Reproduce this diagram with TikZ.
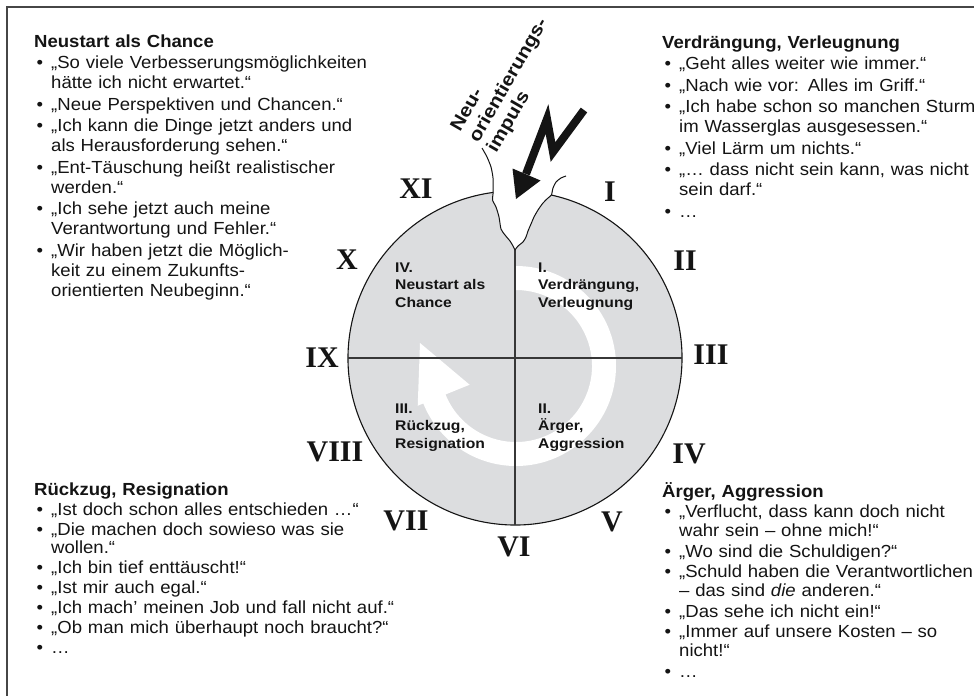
\documentclass[tikz,border=0pt]{standalone}
\usepackage{fontspec}
\setmainfont{Liberation Sans}
\newfontfamily\bodyfont{Liberation Sans}[FakeStretch=1.06]
\newfontfamily\qfont{Liberation Sans}[FakeStretch=1.12]
\newfontfamily\numfont{Liberation Serif}
\usetikzlibrary{calc}
\definecolor{circgray}{RGB}{220,221,223}
\definecolor{framegray}{RGB}{70,70,70}
\definecolor{ink}{RGB}{20,20,20}
\newcommand{\itm}[1]{\makebox[17pt][l]{\hspace{2.5pt}•}#1}
\newcommand{\cnt}[1]{\hspace*{17pt}#1}
\begin{document}
\begin{tikzpicture}[x=1pt,y=-1pt,
  blk/.style={anchor=base west, inner sep=0pt, align=left, text width=420pt, text=ink,
    font={\bodyfont\fontsize{17.5}{#1}\selectfont}},
  qlab/.style={anchor=base west, inner sep=0pt, align=left, text width=150pt, text=ink,
    font={\qfont\bfseries\fontsize{14}{17.8}\selectfont}},
  roman/.style={inner sep=0pt, text=ink, font={\numfont\bfseries\fontsize{30}{30}\selectfont}},
  rottext/.style={anchor=base west, inner sep=0pt, align=left, text width=220pt, text=ink,
    font={\qfont\bfseries\fontsize{18.5}{21}\selectfont}},
  qline/.style={draw=ink!85, line width=1.1pt},
  crackline/.style={draw=ink, line width=1pt}]
\useasboundingbox (0,0) rectangle (974,696);

% circle
\coordinate (c) at (515,358);
\coordinate (rc) at (516,366);
\fill[circgray] (c) circle[radius=167];

% white circular arrow
\fill[white] ($(rc)+(-90:100)$) arc[start angle=-90, end angle=158, radius=100]
  -- ($(rc)+(158:106)$) -- ($(rc)+(-96,-23)$) -- ($(rc)+(158:50)$)
  -- ($(rc)+(158:76)$) arc[start angle=158, end angle=-90, radius=76] -- cycle;

% crack (white)
\fill[white] plot[smooth, tension=0.4] coordinates {(482,148) (487,157) (491,167) (493,178) (493.2,192.4) (492.5,200) (496,207) (499,217) (501,229) (505,235) (510,241) (513,246) (515,250)}
  -- plot[smooth, tension=0.4] coordinates {(515,250) (518,246) (523,242) (526,237) (528,231) (531,224) (534,217) (538,210) (543,203) (548,198) (551.4,195) (553,188) (556,182) (561,178) (566,176)}
  -- (540,120) -- cycle;

% circle border (interrupted by the crack)
\draw[ink, line width=1.1pt] ($(c)+(-77.4:167)$) arc[start angle=-77.4, end angle=262.5, radius=167];

% quadrant lines
\draw[qline] ($(c)+(180:167)$) -- ($(c)+(0:167)$);
\draw[qline] (515,250) -- ($(c)+(90:167)$);

% crack outlines
\draw[crackline] plot[smooth, tension=0.4] coordinates {(482,148) (487,157) (491,167) (493,178) (493.2,192.4) (492.5,200) (496,207) (499,217) (501,229) (505,235) (510,241) (513,246) (515,250)};
\draw[crackline] plot[smooth, tension=0.4] coordinates {(515,250) (518,246) (523,242) (526,237) (528,231) (531,224) (534,217) (538,210) (543,203) (548,198) (551.4,195) (553,188) (556,182) (561,178) (566,176)};

% lightning
\draw[ink, line width=8pt, line join=miter, miter limit=25] (584,110) -- (553,152) -- (547,119) -- (526,174);
\fill[ink] (540.5,180.5) -- (516,199) -- (512.5,168.5) -- cycle;

% rotated label
\node[rottext, rotate=60] (impuls) at (460,133) {Neu-\\orientierungs-\\impuls};

% quadrant labels
\node[qlab] (q4) at (395,272) {IV.\\Neustart als\\Chance};
\node[qlab] (q1) at (538,272) {I.\\Verdrängung,\\Verleugnung};
\node[qlab] (q3) at (395,413) {III.\\Rückzug,\\Resignation};
\node[qlab] (q2) at (538,413) {II.\\Ärger,\\Aggression};

% roman numerals
\node[roman] (nXI) at (416,189) {XI};
\node[roman] (nI) at (610,192) {I};
\node[roman] (nII) at (685,261) {II};
\node[roman] (nIII) at (711,355) {III};
\node[roman] (nIV) at (689,454) {IV};
\node[roman] (nV) at (612,522) {V};
\node[roman] (nVI) at (514,547) {VI};
\node[roman] (nVII) at (406,521) {VII};
\node[roman] (nVIII) at (335,452) {VIII};
\node[roman] (nIX) at (322,358) {IX};
\node[roman] (nX) at (347,260) {X};

% text blocks
\node[blk=20] (tl) at (34,47) {\textbf{Neustart als Chance}\\[1.5pt]
\itm{„So viele Verbesserungsmöglichkeiten}\\
\cnt{hätte ich nicht erwartet.“}\\[1.5pt]
\itm{„Neue Perspektiven und Chancen.“}\\[1.5pt]
\itm{„Ich kann die Dinge jetzt anders und}\\
\cnt{als Herausforderung sehen.“}\\[1.5pt]
\itm{„Ent-Täuschung heißt realistischer}\\
\cnt{werden.“}\\[1.5pt]
\itm{„Ich sehe jetzt auch meine}\\
\cnt{Verantwortung und Fehler.“}\\[1.5pt]
\itm{„Wir haben jetzt die Möglich-}\\
\cnt{keit zu einem Zukunfts-}\\
\cnt{orientierten Neubeginn.“}};

\node[blk=20] (tr) at (662,48) {\textbf{Verdrängung, Verleugnung}\\[1.5pt]
\itm{„Geht alles weiter wie immer.“}\\[1.5pt]
\itm{„Nach wie vor: Alles im Griff.“}\\[1.5pt]
\itm{„Ich habe schon so manchen Sturm}\\
\cnt{im Wasserglas ausgesessen.“}\\[1.5pt]
\itm{„Viel Lärm um nichts.“}\\[1.5pt]
\itm{„… dass nicht sein kann, was nicht}\\
\cnt{sein darf.“}\\[1.5pt]
\itm{…}};

\node[blk=18.5] (bl) at (34,495) {\textbf{Rückzug, Resignation}\\[1.5pt]
\itm{„Ist doch schon alles entschieden …“}\\[1.5pt]
\itm{„Die machen doch sowieso was sie}\\
\cnt{wollen.“}\\[1.5pt]
\itm{„Ich bin tief enttäuscht!“}\\[1.5pt]
\itm{„Ist mir auch egal.“}\\[1.5pt]
\itm{„Ich mach’ meinen Job und fall nicht auf.“}\\[1.5pt]
\itm{„Ob man mich überhaupt noch braucht?“}\\[1.5pt]
\itm{…}};

\node[blk=19] (br) at (662,497) {\textbf{Ärger, Aggression}\\[1.5pt]
\itm{„Verflucht, dass kann doch nicht}\\
\cnt{wahr sein – ohne mich!“}\\[1.5pt]
\itm{„Wo sind die Schuldigen?“}\\[1.5pt]
\itm{„Schuld haben die Verantwortlichen}\\
\cnt{– das sind \textit{die} anderen.“}\\[1.5pt]
\itm{„Das sehe ich nicht ein!“}\\[1.5pt]
\itm{„Immer auf unsere Kosten – so}\\
\cnt{nicht!“}\\[1.5pt]
\itm{…}};

% frame
\draw[framegray, line width=1.6pt] (974,7) -- (7,7) -- (7,696);
\end{tikzpicture}
\end{document}
